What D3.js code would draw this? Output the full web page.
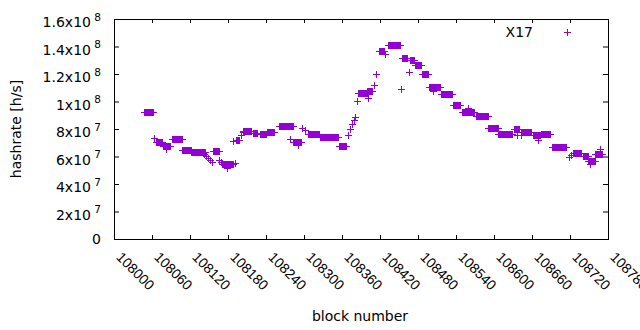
<!DOCTYPE html>
<html>
<head>
<meta charset="utf-8">
<script src="https://cdn.jsdelivr.net/npm/d3@7"></script>
<style>
  body { margin: 0; background: #fff; }
  svg { display: block; font-family: "DejaVu Sans", sans-serif; }
  .info { font-size: 14px; fill: #000; }
  .tick line { stroke: #000; }
</style>
</head>
<body>
<svg width="640" height="330"></svg>
<script>
// runs of blocks with the same hashrate (block from, block to, hashrate in h/s)
const runStart = [108048, 108066, 108077, 108091, 108108, 108122, 108156, 108171, 108192, 108203,
  108219, 108230, 108242, 108260, 108283, 108306, 108326, 108356, 108386, 108400,
  108418, 108432, 108454, 108467, 108476, 108486, 108498, 108516, 108535, 108549,
  108571, 108591, 108607, 108632, 108642, 108662, 108674, 108692, 108724, 108740,
  108749, 108760];
const runEnd = [108061, 108075, 108088, 108107, 108121, 108143, 108166, 108188, 108198, 108217,
  108226, 108240, 108253, 108282, 108296, 108324, 108353, 108367, 108399, 108407,
  108427, 108451, 108463, 108474, 108484, 108495, 108514, 108533, 108547, 108569,
  108590, 108606, 108629, 108640, 108659, 108673, 108688, 108714, 108738, 108748,
  108759, 108770];
const runRate = [92.7e6, 70.5e6, 67.6e6, 73.0e6, 65.0e6, 63.6e6, 64.3e6, 54.5e6, 71.9e6, 78.5e6,
  77.4e6, 76.3e6, 78.1e6, 82.1e6, 70.9e6, 76.7e6, 74.5e6, 67.9e6, 106.2e6, 107.3e6,
  136.5e6, 141.2e6, 131.3e6, 129.9e6, 126.2e6, 119.7e6, 110.9e6, 105.5e6, 97.8e6, 92.4e6,
  89.4e6, 81.0e6, 76.7e6, 80.3e6, 78.1e6, 75.6e6, 76.7e6, 67.2e6, 62.5e6, 60.3e6,
  57.0e6, 62.1e6];
// single blocks off the runs
const extraBlock = [108063, 108082, 108142, 108145, 108148, 108151, 108154, 108166, 108169, 108178,
  108191, 108188, 108201, 108204, 108278, 108291, 108297, 108302, 108370, 108373,
  108376, 108379, 108381, 108384, 108401, 108411, 108414, 108428, 108453, 108466,
  108503, 108559, 108636, 108643, 108670, 108718, 108721, 108752, 108767];
const extraRate = [73.4e6, 65.4e6, 61.7e6, 60.3e6, 58.8e6, 57.4e6, 55.9e6, 57.4e6, 55.9e6, 51.5e6,
  55.2e6, 71.1e6, 75.6e6, 77.8e6, 72.7e6, 68.3e6, 80.7e6, 79.2e6, 75.6e6, 80.0e6,
  83.6e6, 86.5e6, 88.7e6, 100.4e6, 102.6e6, 112.0e6, 120.1e6, 134.6e6, 109.1e6, 121.5e6,
  107.6e6, 95.3e6, 75.9e6, 75.9e6, 71.9e6, 59.6e6, 61.0e6, 54.5e6, 65.4e6];

const xTicks = [108000, 108060, 108120, 108180, 108240, 108300, 108360, 108420, 108480,
  108540, 108600, 108660, 108720, 108780];
const yTicks = [0, 2e7, 4e7, 6e7, 8e7, 1e8, 1.2e8, 1.4e8, 1.6e8];
const yTickBase = ["0", "2x10", "4x10", "6x10", "8x10", "1x10", "1.2x10", "1.4x10", "1.6x10"];
const yTickExp = ["", "7", "7", "7", "7", "8", "8", "8", "8"];
const seriesName = "X17";

const color = "#9400d3";
const svg = d3.select("svg");
const plot = { left: 114, right: 608, top: 19, bottom: 239 };

const points = [];
runStart.forEach((s, i) => {
  for (let b = s; b <= runEnd[i]; b++) points.push({ block: b, rate: runRate[i] });
});
extraBlock.forEach((b, i) => points.push({ block: b, rate: extraRate[i] }));

const xScale = d3.scaleLinear().domain([108000, 108780]).range([plot.left, plot.right]);
const yScale = d3.scaleLinear().domain([0, 1.6e8]).range([plot.bottom, plot.top]);

const plus = (cx, cy, r) => `M${cx - r},${cy}H${cx + r}M${cx},${cy - r}V${cy + r}`;

// axes, ticks drawn inward on all four sides
const xAxisG = svg.append("g")
  .attr("transform", `translate(0,${plot.bottom})`)
  .call(d3.axisBottom(xScale).tickValues(xTicks).tickSize(-4).tickFormat(d3.format("d")));
xAxisG.select(".domain").remove();
xAxisG.selectAll("text")
  .attr("class", "info")
  .attr("x", null).attr("y", null).attr("dy", null)
  .style("text-anchor", "start")
  .attr("transform", "translate(1,19) rotate(45)");

svg.append("g")
  .attr("transform", `translate(0,${plot.top})`)
  .call(d3.axisTop(xScale).tickValues(xTicks).tickSize(-4).tickFormat(""))
  .select(".domain").remove();

const yAxisG = svg.append("g")
  .attr("transform", `translate(${plot.left},0)`)
  .call(d3.axisLeft(yScale).tickValues(yTicks).tickSize(-5).tickFormat(""));
yAxisG.select(".domain").remove();

svg.append("g")
  .attr("transform", `translate(${plot.right},0)`)
  .call(d3.axisRight(yScale).tickValues(yTicks).tickSize(-5).tickFormat(""))
  .select(".domain").remove();

yTicks.forEach((t, i) => {
  const label = svg.append("text")
    .attr("class", "info")
    .attr("text-anchor", "end")
    .attr("x", 101)
    .attr("y", yScale(t) + (yTickExp[i] ? 8 : 5))
    .text(yTickBase[i]);
  if (yTickExp[i]) {
    label.append("tspan").attr("dy", -6.5).style("font-size", "10.5px").text(" " + yTickExp[i]);
  }
});

svg.append("rect")
  .attr("x", plot.left + 0.5)
  .attr("y", plot.top + 0.5)
  .attr("width", plot.right - plot.left)
  .attr("height", plot.bottom - plot.top)
  .attr("fill", "none")
  .attr("stroke", "#000");

// data points
svg.append("g")
  .selectAll("path")
  .data(points)
  .enter()
  .append("path")
  .attr("d", (d) => plus(Math.round(xScale(d.block)) + 0.5, Math.round(yScale(d.rate)) + 0.5, 3.5))
  .attr("stroke", color)
  .attr("fill", "none")
  .attr("shape-rendering", "crispEdges");

// key
svg.append("text").attr("class", "info").attr("text-anchor", "end")
  .attr("x", 533).attr("y", 37).text(seriesName);
svg.append("path").attr("d", plus(567.5, 32.5, 3.5))
  .attr("stroke", color).attr("shape-rendering", "crispEdges");

svg.append("text").attr("class", "info").attr("text-anchor", "middle")
  .attr("x", 360).attr("y", 321).text("block number");
svg.append("text").attr("class", "info").attr("text-anchor", "middle")
  .attr("transform", "translate(21,129) rotate(-90)").text("hashrate [h/s]");
</script>
</body>
</html>
